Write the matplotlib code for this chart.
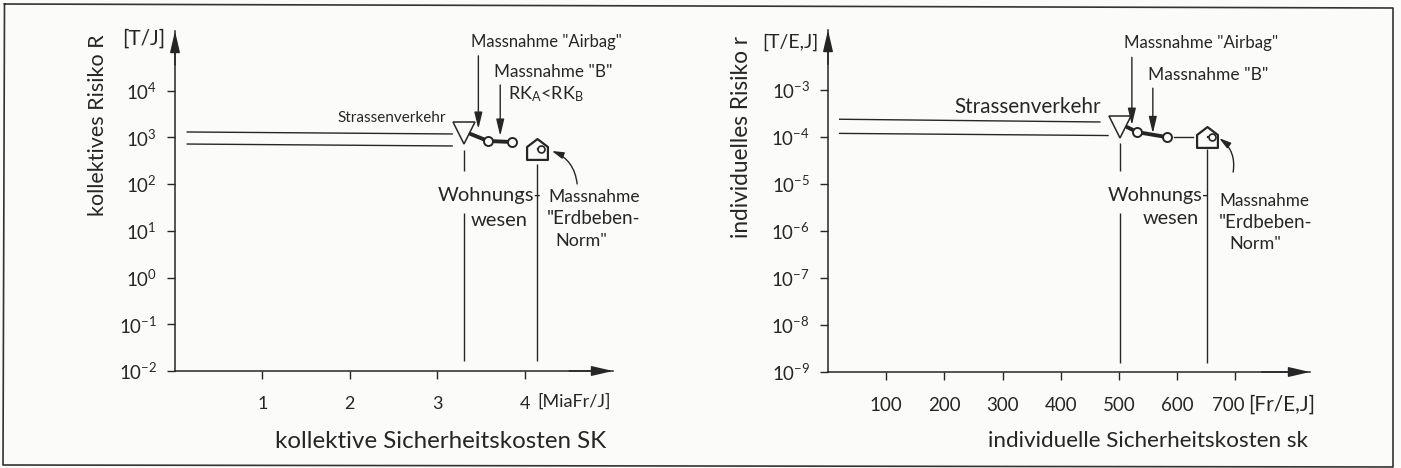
import matplotlib
matplotlib.use('Agg')
import matplotlib.pyplot as plt
from matplotlib.lines import Line2D
from matplotlib.markers import MarkerStyle
from matplotlib.path import Path
from matplotlib.transforms import ScaledTranslation

W, H = 1401, 468
INK = '#262626'
PAPER = '#fbfbf9'

plt.rcParams['font.family'] = ['Lato', 'DejaVu Sans']
plt.rcParams['mathtext.default'] = 'regular'

# left chart: collective risk against collective cost
left_x_ticks = [1, 2, 3, 4]
left_x_labels = ['1', '2', '3', '4']
left_y_ticks = [1e-2, 1e-1, 1e0, 1e1, 1e2, 1e3, 1e4]
left_y_labels = ['$10^{-2}$', '$10^{-1}$', '$10^{0}$', '$10^{1}$', '$10^{2}$', '$10^{3}$', '$10^{4}$']
left_band_x = [0.14, 3.17]
left_band_upper = [1312, 1190]
left_band_lower = [724, 658]
left_road = (3.30, 1250)
left_path_x = [3.38, 3.58, 3.85]
left_path_y = [1190, 841, 801]
left_circles_x = [3.58, 3.85]
left_circles_y = [841, 801]
left_house = (4.14, 568)
left_road_drop = [(0.0164, 24), (192, 540)]
left_house_drop = (0.0164, 271)
left_airbag_arrow = (3.47, 5.6e4, 1520)
left_b_arrow = (3.72, 1.33e4, 1076)
left_quake_arrow = ((4.60, 101), (4.31, 514))

# right chart: individual risk against individual cost
right_x_ticks = [100, 200, 300, 400, 500, 600, 700]
right_x_labels = ['100', '200', '300', '400', '500', '600', '700']
right_y_ticks = [1e-9, 1e-8, 1e-7, 1e-6, 1e-5, 1e-4, 1e-3]
right_y_labels = ['$10^{-9}$', '$10^{-8}$', '$10^{-7}$', '$10^{-6}$', '$10^{-5}$', '$10^{-4}$', '$10^{-3}$']
right_band_x_upper = [20, 467]
right_band_x_lower = [20, 481]
right_band_upper = [2.4e-4, 2.1e-4]
right_band_lower = [1.2e-4, 1.08e-4]
right_road = (502, 1.63e-4)
right_path_x = [514, 531, 582]
right_path_y = [1.63e-4, 1.28e-4, 1.0e-4]
right_circles_x = [531, 582]
right_circles_y = [1.28e-4, 1.0e-4]
right_link_x = [595, 627]
right_link_y = [1.03e-4, 1.03e-4]
right_house = (651, 1.03e-4)
right_road_drop = [(1.55e-9, 2.4e-6), (1.9e-5, 7.4e-5)]
right_house_drop = (1.55e-9, 5.6e-5)
right_airbag_arrow = (522, 5e-3, 1.8e-4)
right_b_arrow = (558, 1.1e-3, 1.2e-4)
right_quake_arrow = ((696, 1.8e-5), (672, 9.5e-5))

HOUSE = Path([(-0.5, -0.5), (0.5, -0.5), (0.5, 0.12), (0, 0.5), (-0.5, 0.12), (-0.5, -0.5)], closed=True)


def px(x, y):
    return x / W, 1 - y / H


def note(x, y, s, size=12.5, ha='left', **kw):
    fig.text(*px(x, y), s, fontsize=size, ha=ha, va='center', color=INK, **kw)


def make_axes(x0, x1, y0, y1, x_size):
    ax = fig.add_axes([x0 / W, 1 - y1 / H, (x1 - x0) / W, (y1 - y0) / H])
    ax.patch.set_alpha(0)
    ax.set_yscale('log')
    ax.spines['top'].set_visible(False)
    ax.spines['right'].set_visible(False)
    ax.spines['left'].set_color(INK)
    ax.spines['bottom'].set_color(INK)
    ax.spines['left'].set_linewidth(1.1)
    ax.spines['bottom'].set_linewidth(1.1)
    ax.tick_params(axis='y', length=6, width=1, color=INK, pad=7, labelsize=13.5, labelcolor=INK)
    ax.tick_params(axis='x', length=6, width=1, color=INK, pad=12, labelsize=x_size, labelcolor=INK)
    # arrow heads on both axes
    head = dict(arrowstyle='-|>,head_length=1.3,head_width=0.3', color=INK, lw=1.1, shrinkA=0, shrinkB=0)
    ax.annotate('', xy=(1, 0), xytext=(0.9, 0), xycoords='axes fraction', arrowprops=head)
    ax.annotate('', xy=(0, 1), xytext=(0, 0.9), xycoords='axes fraction', arrowprops=head)
    return ax


def down_arrow(ax, spec):
    x, start, tip = spec
    ax.annotate('', xy=(x, tip), xytext=(x, start),
                arrowprops=dict(arrowstyle='-|>,head_length=1.0,head_width=0.24', color=INK, lw=1.0,
                                shrinkA=0, shrinkB=0))


def quake_arrow(ax, spec):
    start, tip = spec
    ax.annotate('', xy=tip, xytext=start,
                arrowprops=dict(arrowstyle='-|>,head_length=0.7,head_width=0.2', color=INK, lw=1.0,
                                shrinkA=0, shrinkB=0, connectionstyle='arc3,rad=0.3'))


def draw_house(ax, point, inner_dx):
    x, y = point
    marker = MarkerStyle(HOUSE, joinstyle='round')
    ax.plot([x], [y], marker=marker, ms=15, mfc=PAPER, mec=INK, mew=1.6, ls='none', zorder=4)
    ax.plot([x + inner_dx * 0.2, x + inner_dx], [y, y], color=INK, lw=1.6, zorder=5)
    ax.plot([x + inner_dx], [y], marker='o', ms=5, mfc=PAPER, mec=INK, mew=1.2, ls='none', zorder=6)


def draw_markers(ax, road, path_x, path_y, circles_x, circles_y):
    ax.plot(path_x, path_y, color=INK, lw=2.8, solid_capstyle='round', zorder=3)
    ax.plot([road[0]], [road[1]], marker='v', ms=15.5, mfc='none', mec=INK, mew=1.1, ls='none', zorder=4)
    ax.plot(circles_x, circles_y, marker='o', ms=6.5, mfc=PAPER, mec=INK, mew=1.4, ls='none', zorder=5)


fig = plt.figure(figsize=(W / 100, H / 100), dpi=100, facecolor=PAPER)

# scanned page frame, slightly skewed
frame_x = [4.5, 1393, 1393, 3, 4.5]
frame_y = [4, 8, 467, 465, 4]
fig.add_artist(Line2D([x / W for x in frame_x], [1 - y / H for y in frame_y], color='#333333', lw=1.2))

# left chart
ax1 = make_axes(175, 613, 31, 371, 13)
ax1.set_xlim(0, 5.01)
ax1.set_ylim(1e-2, 10 ** 5.28)
ax1.set_xticks(left_x_ticks, left_x_labels)
ax1.set_yticks(left_y_ticks, left_y_labels)
ax1.minorticks_off()
ax1.plot(left_band_x, left_band_upper, color=INK, lw=1.0)
ax1.plot(left_band_x, left_band_lower, color=INK, lw=1.0)
for low, high in left_road_drop:
    ax1.vlines(left_road[0], low, high, color=INK, lw=1.0)
ax1.vlines(left_house[0], *left_house_drop, color=INK, lw=1.0)
draw_markers(ax1, left_road, left_path_x, left_path_y, left_circles_x, left_circles_y)
draw_house(ax1, left_house, 0.05)
down_arrow(ax1, left_airbag_arrow)
down_arrow(ax1, left_b_arrow)
quake_arrow(ax1, left_quake_arrow)

note(98, 125, 'kollektives Risiko R', size=15.5, ha='center', rotation=90)
note(122, 39, '[T/J]', size=15)
note(537, 402, '[MiaFr/J]', size=13)
note(441, 441, 'kollektive Sicherheitskosten SK', size=17.4, ha='center')
note(337, 118, 'Strassenverkehr', size=11)
note(471, 42, 'Massnahme "Airbag"', size=12)
note(494, 72, 'Massnahme "B"', size=12.3)
note(508, 94, r'$\mathregular{RK_A}$<$\mathregular{RK_B}$', size=13)
note(438, 195, 'Wohnungs-', size=14.5)
note(528, 220, 'wesen', size=14.5, ha='right')
note(548, 197, 'Massnahme', size=12.5)
note(547, 219, '"Erdbeben-', size=13.5)
note(555, 241, 'Norm"', size=13)

# right chart
ax2 = make_axes(828, 1310, 30, 372, 13.5)
ax2.set_xlim(0, 828)
ax2.set_ylim(1e-9, 10 ** -1.72)
ax2.set_xticks(right_x_ticks, right_x_labels)
ax2.set_yticks(right_y_ticks, right_y_labels)
ax2.minorticks_off()
# the last label sits left of its tick to make room for the unit
lab700 = ax2.get_xticklabels()[-1]
lab700.set_transform(lab700.get_transform() + ScaledTranslation(-7 / 100, 0, fig.dpi_scale_trans))
ax2.plot(right_band_x_upper, right_band_upper, color=INK, lw=1.0)
ax2.plot(right_band_x_lower, right_band_lower, color=INK, lw=1.0)
for low, high in right_road_drop:
    ax2.vlines(right_road[0], low, high, color=INK, lw=1.0)
ax2.vlines(right_house[0], *right_house_drop, color=INK, lw=1.0)
ax2.plot(right_link_x, right_link_y, color=INK, lw=1.0)
draw_markers(ax2, right_road, right_path_x, right_path_y, right_circles_x, right_circles_y)
draw_house(ax2, right_house, 8)
down_arrow(ax2, right_airbag_arrow)
down_arrow(ax2, right_b_arrow)
quake_arrow(ax2, right_quake_arrow)

note(742, 137, 'individuelles Risiko r', size=16.3, ha='center', rotation=90)
note(762, 42, '[T/E,J]', size=14)
note(1248, 405, '[Fr/E,J]', size=15)
note(1148, 441, 'individuelle Sicherheitskosten sk', size=16.2, ha='center')
note(954, 107, 'Strassenverkehr', size=14.9)
note(1124, 43, 'Massnahme "Airbag"', size=12.2)
note(1148, 75, 'Massnahme "B"', size=12.5)
note(1108, 195, 'Wohnungs-', size=14.3)
note(1199, 218, 'wesen', size=14.3, ha='right')
note(1219, 201, 'Massnahme', size=12.3)
note(1219, 223, '"Erdbeben-', size=13.5)
note(1229, 244, 'Norm"', size=13)

fig.savefig('out.png', dpi=100, facecolor=PAPER)
